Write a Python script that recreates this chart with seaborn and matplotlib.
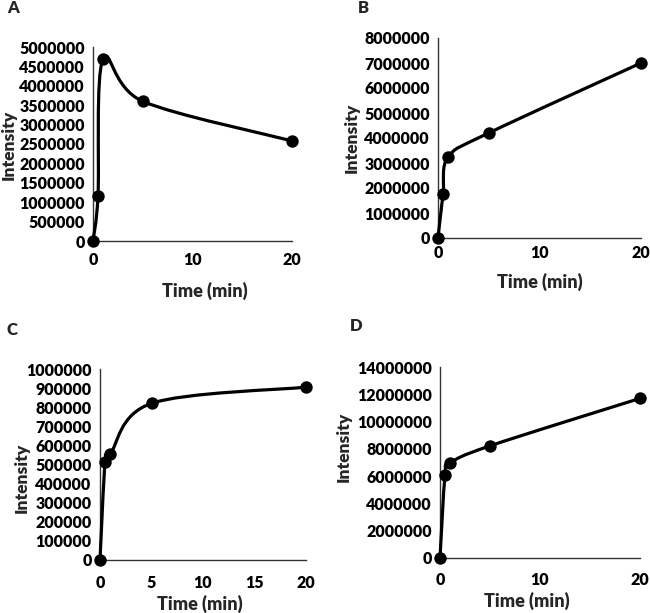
import numpy as np
import pandas as pd
import matplotlib
matplotlib.use("Agg")
import matplotlib.pyplot as plt
from matplotlib.path import Path
from matplotlib.patches import PathPatch
import seaborn as sns

time_min = [0, 0.5, 1, 5, 20]
intensity_a = [0, 1150000, 4680000, 3600000, 2580000]
intensity_b = [0, 1770000, 3240000, 4200000, 7000000]
intensity_c = [0, 515000, 555000, 820000, 905000]
intensity_d = [0, 6050000, 6950000, 8220000, 11700000]

panel_letters = ["A", "B", "C", "D"]
y_max = [5000000, 8000000, 1000000, 14000000]
y_step = [500000, 1000000, 100000, 2000000]
x_ticks = [[0, 10, 20], [0, 10, 20], [0, 5, 10, 15, 20], [0, 10, 20]]

sns.set_style("white")
plt.rcParams["font.family"] = ["Lato", "DejaVu Sans"]
plt.rcParams["font.weight"] = "heavy"
WEIGHT = "heavy"

W, H = 650, 613
fig = plt.figure(figsize=(6.5, 6.13), dpi=100)

# axes boxes in pixels: (left, right, top, bottom)
boxes = [(93, 292, 47, 241), (438, 641, 38, 238), (100, 306, 369, 560), (440, 640, 367, 558)]
ylab_pos = [(-0.385, 0.495), (-0.384, 0.5), (-0.34, 0.43), (-0.44, 0.58)]
xlab_pos = [(0.563, -0.211), (0.502, -0.175), (0.485, -0.18), (0.435, -0.175)]
xpad = [8, 5, 11, 10]
letter_pos = [(7, 8), (358, 8), (6, 330), (350, 326)]


def smooth_path(x, y):
    pts = np.column_stack([x, y]).astype(float)
    n = len(pts)
    verts = [pts[0]]
    codes = [Path.MOVETO]
    for i in range(n - 1):
        p0 = pts[i - 1] if i > 0 else pts[i]
        p1 = pts[i]
        p2 = pts[i + 1]
        p3 = pts[i + 2] if i + 2 < n else pts[i + 1]
        c1 = p1 + (p2 - p0) / 6.0
        c2 = p2 - (p3 - p1) / 6.0
        verts += [c1, c2, p2]
        codes += [Path.CURVE4] * 3
    return Path(verts, codes)


series = [intensity_a, intensity_b, intensity_c, intensity_d]
for k, vals in enumerate(series):
    l, r, t, b = boxes[k]
    ax = fig.add_axes([l / W, (H - b) / H, (r - l) / W, (b - t) / H])
    df = pd.DataFrame({"Time (min)": time_min, "Intensity": vals})
    patch = PathPatch(smooth_path(df["Time (min)"], df["Intensity"]), facecolor="none",
                      edgecolor="black", lw=2.3, clip_on=False, zorder=3)
    ax.add_patch(patch)
    sns.scatterplot(data=df, x="Time (min)", y="Intensity", ax=ax, color="black",
                    s=80, edgecolor="black", linewidth=0, clip_on=False, zorder=4)
    ax.set_xlim(0, 20)
    ax.set_ylim(0, y_max[k])
    ax.set_xticks(x_ticks[k])
    ax.set_yticks(np.arange(0, y_max[k] + 1, y_step[k]))
    ax.set_yticklabels([f"{int(v)}" for v in np.arange(0, y_max[k] + 1, y_step[k])])
    ax.tick_params(axis="both", length=0, labelsize=11.5, colors="black")
    ax.tick_params(axis="x", pad=xpad[k])
    ax.tick_params(axis="y", pad=6)
    for lab in ax.get_xticklabels() + ax.get_yticklabels():
        lab.set_fontweight(WEIGHT)
    for s in ["top", "right"]:
        ax.spines[s].set_visible(False)
    for s in ["left", "bottom"]:
        ax.spines[s].set_color("#333333")
        ax.spines[s].set_linewidth(1.0)
    ax.set_xlabel("Time (min)", fontsize=13, fontweight=WEIGHT)
    ax.set_ylabel("Intensity", fontsize=12.5, fontweight=WEIGHT)
    ax.xaxis.set_label_coords(*xlab_pos[k])
    ax.yaxis.set_label_coords(*ylab_pos[k])
    ax.patch.set_alpha(0)
    lx, ly = letter_pos[k]
    fig.text(lx / W, 1 - ly / H, panel_letters[k], fontsize=12, fontweight=WEIGHT,
             ha="left", va="center")

fig.savefig("out.png", dpi=100)
